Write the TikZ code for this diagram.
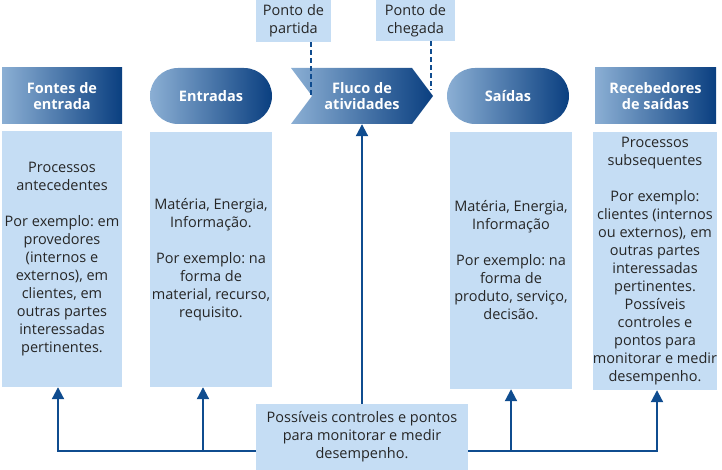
\documentclass[tikz,border=0pt]{standalone}
\usepackage{fontspec}
\setmainfont{Open Sans}
\frenchspacing
\usetikzlibrary{arrows.meta,positioning}
\definecolor{navy}{HTML}{0A3F80}
\definecolor{skyfill}{HTML}{C5DDF4}
\definecolor{fadeblue}{HTML}{8BAFD4}
\definecolor{linkblue}{HTML}{0F4C8F}
\definecolor{bodytext}{HTML}{262626}

\begin{document}
\begin{tikzpicture}[
  x=1pt, y=1pt,
  font=\fontsize{14.5}{18}\selectfont,
  headbox/.style={left color=fadeblue, right color=navy, text=white, font=\fontsize{14.5}{16}\selectfont\bfseries, minimum height=56pt, align=center, inner sep=0pt},
  infobox/.style={fill=skyfill, text=bodytext, align=center, inner sep=0pt},
  link/.style={draw=linkblue, line width=2pt, -{Triangle[width=12pt,length=12pt]}},
  marker/.style={draw=linkblue, line width=1.6pt, dash pattern=on 5pt off 3pt}
]
\useasboundingbox (0,0) rectangle (722,470);

% header row
\node[headbox, minimum width=120pt] (nSrc) at (62,374) {Fontes de\\entrada};
\node[headbox, minimum width=122pt, rounded corners=28pt] (nIn) at (211,374) {Entradas};
\shade[left color=fadeblue, right color=navy] (291,346) -- (412,346) -- (433,374) -- (412,402) -- (291,402) -- (312,374) -- cycle;
\node[text=white, font=\fontsize{14.5}{16}\selectfont\bfseries, align=center, minimum height=56pt] (nAct) at (362,374) {Fluco de\\atividades};
\node[headbox, minimum width=122pt, rounded corners=28pt] (nOut) at (508,374) {Saídas};
\node[headbox, minimum width=121pt] (nRcv) at (655.5,374) {Recebedores\\de saídas};

% detail boxes
\node[infobox, minimum width=120pt, minimum height=256pt] (bSrc) at (62,211) {Processos\\antecedentes\\[18pt]Por exemplo: em\\provedores\\(internos e\\externos), em\\clientes, em\\outras partes\\interessadas\\pertinentes.};
\node[infobox, minimum width=122pt, minimum height=255pt] (bIn) at (211,210.5) {Matéria, Energia,\\Informação.\\[18pt]Por exemplo: na\\forma de\\material, recurso,\\requisito.};
\node[infobox, minimum width=122pt, minimum height=257pt] (bOut) at (511,209.5) {Matéria, Energia,\\Informação\\[18pt]Por exemplo: na\\forma de\\produto, serviço,\\decisão.};
\node[infobox, minimum width=124pt, minimum height=258pt] (bRcv) at (655,209) {Processos\\subsequentes\\[18pt]Por exemplo:\\clientes (internos\\ou externos), em\\outras partes\\interessadas\\pertinentes.\\Possíveis\\controles e\\pontos para\\monitorar e medir\\desempenho.};

% start and end points
\node[infobox, minimum width=75pt, minimum height=42pt] (nStart) at (293.5,449) {Ponto de\\partida};
\node[infobox, minimum width=79pt, minimum height=41pt] (nEnd) at (415.5,449.5) {Ponto de\\chegada};
\coordinate (notch) at (311,374);
\coordinate (tip) at (431,380);
\draw[marker] (nStart.south -| notch) -- (notch);
\draw[marker] (nEnd.south -| tip) -- (tip);

% control box
\node[infobox, minimum width=212pt, minimum height=66pt] (nCtrl) at (362,33) {Possíveis controles e pontos\\para monitorar e medir\\desempenho.};

\draw[link] (nCtrl) -- (nAct.south);

\coordinate (busL) at ([yshift=-14pt]nCtrl.west);
\coordinate (busR) at ([yshift=-14pt]nCtrl.east);
\coordinate (fSrc) at ([xshift=-4pt]bSrc.south);
\coordinate (fIn) at ([xshift=-8pt]bIn.south);
\coordinate (fOut) at (bOut.south);
\coordinate (fRcv) at ([xshift=2pt]bRcv.south);
\draw[link] (busL) -| (fSrc);
\draw[link] (busL -| fIn) -- (fIn);
\draw[link] (busR) -| (fRcv);
\draw[link] (busR -| fOut) -- (fOut);

\end{tikzpicture}
\end{document}
